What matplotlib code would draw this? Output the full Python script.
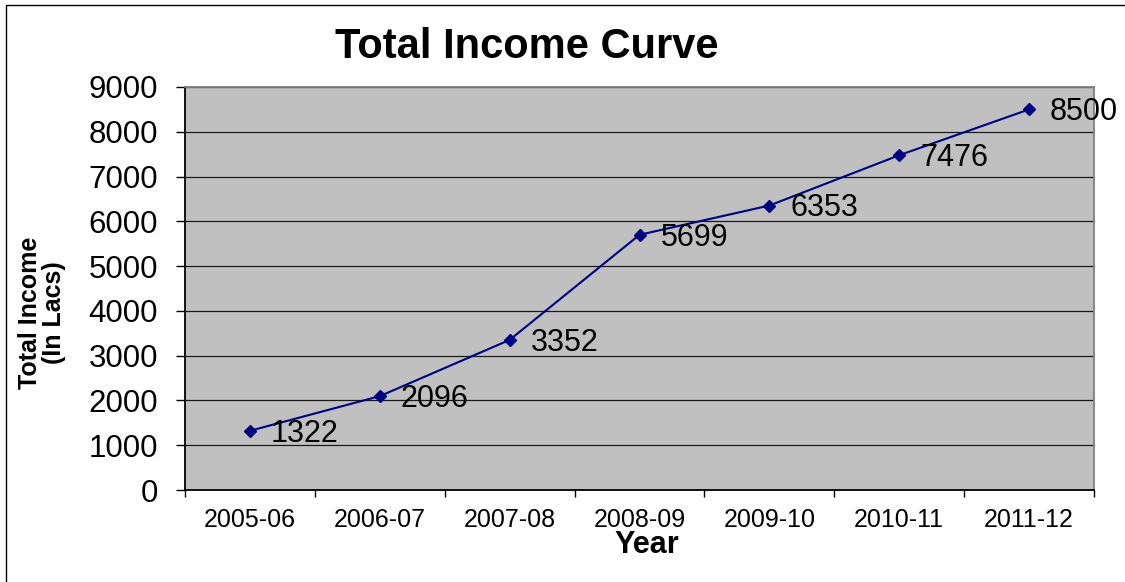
'''
Total income curve, line chart with data labels
'''

import matplotlib
matplotlib.use("Agg")
import matplotlib.pyplot as plt
from matplotlib.patches import Rectangle

years = ["2005-06", "2006-07", "2007-08", "2008-09", "2009-10", "2010-11", "2011-12"]
income = [1322, 2096, 3352, 5699, 6353, 7476, 8500]
yTicks = [0, 1000, 2000, 3000, 4000, 5000, 6000, 7000, 8000, 9000]

plt.rcParams['font.family'] = ['Liberation Sans', 'DejaVu Sans']

fig = plt.figure(figsize=(11.25, 5.82), dpi=100)
fig.patch.set_facecolor('white')

# outer chart border (only left/top visible in original)
fig.patches.append(Rectangle((6/1125, -0.01), 1.1, 1-5/582+0.01, transform=fig.transFigure,
                             fill=False, edgecolor='black', linewidth=1.0))

ax = fig.add_axes([185/1125, 1-490/582, 909/1125, 403/582])
ax.set_facecolor('#C0C0C0')

x = list(range(len(years)))
ax.plot(x, income, color='#000080', linewidth=1.5, marker='D', markersize=6, zorder=3)

for xi, v in zip(x, income):
  ax.annotate(str(v), (xi, v), xytext=(15, -2), textcoords='offset points',
              ha='left', va='center', fontsize=22, color='black', zorder=4,
              annotation_clip=False)

ax.set_xlim(-0.5, len(years)-0.5)
ax.set_ylim(0, 9000)
ax.set_yticks(yTicks)
ax.set_yticklabels([str(t) for t in yTicks], fontsize=22.5)
ax.tick_params(axis='y', direction='out', length=6.5, width=1, pad=13)

ax.set_xticks([i-0.5 for i in range(len(years)+1)])
ax.set_xticklabels([])
ax.set_xticks(x, minor=True)
ax.set_xticklabels(years, minor=True, fontsize=18)
ax.tick_params(axis='x', which='major', direction='out', length=5, width=1)
ax.tick_params(axis='x', which='minor', length=0, pad=13)

ax.grid(axis='y', color='#1a1a1a', linewidth=0.9)
ax.set_axisbelow(True)

ax.spines['left'].set_color('black')
ax.spines['bottom'].set_color('black')
ax.spines['top'].set_color('#808080')
ax.spines['right'].set_color('#808080')
for s in ax.spines.values():
  s.set_linewidth(1.3)

fig.text(527/1125, 1-47/582, "Total Income Curve", fontsize=30, fontweight='bold',
         ha='center', va='center')
fig.text(647/1125, 1-545/582, "Year", fontsize=22, fontweight='bold',
         ha='center', va='center')
fig.text(42/1125, 1-313/582, "Total Income\n(In Lacs)", fontsize=18, fontweight='bold',
         ha='center', va='center', rotation=90, linespacing=1.05)

fig.savefig("out.png", dpi=100)
